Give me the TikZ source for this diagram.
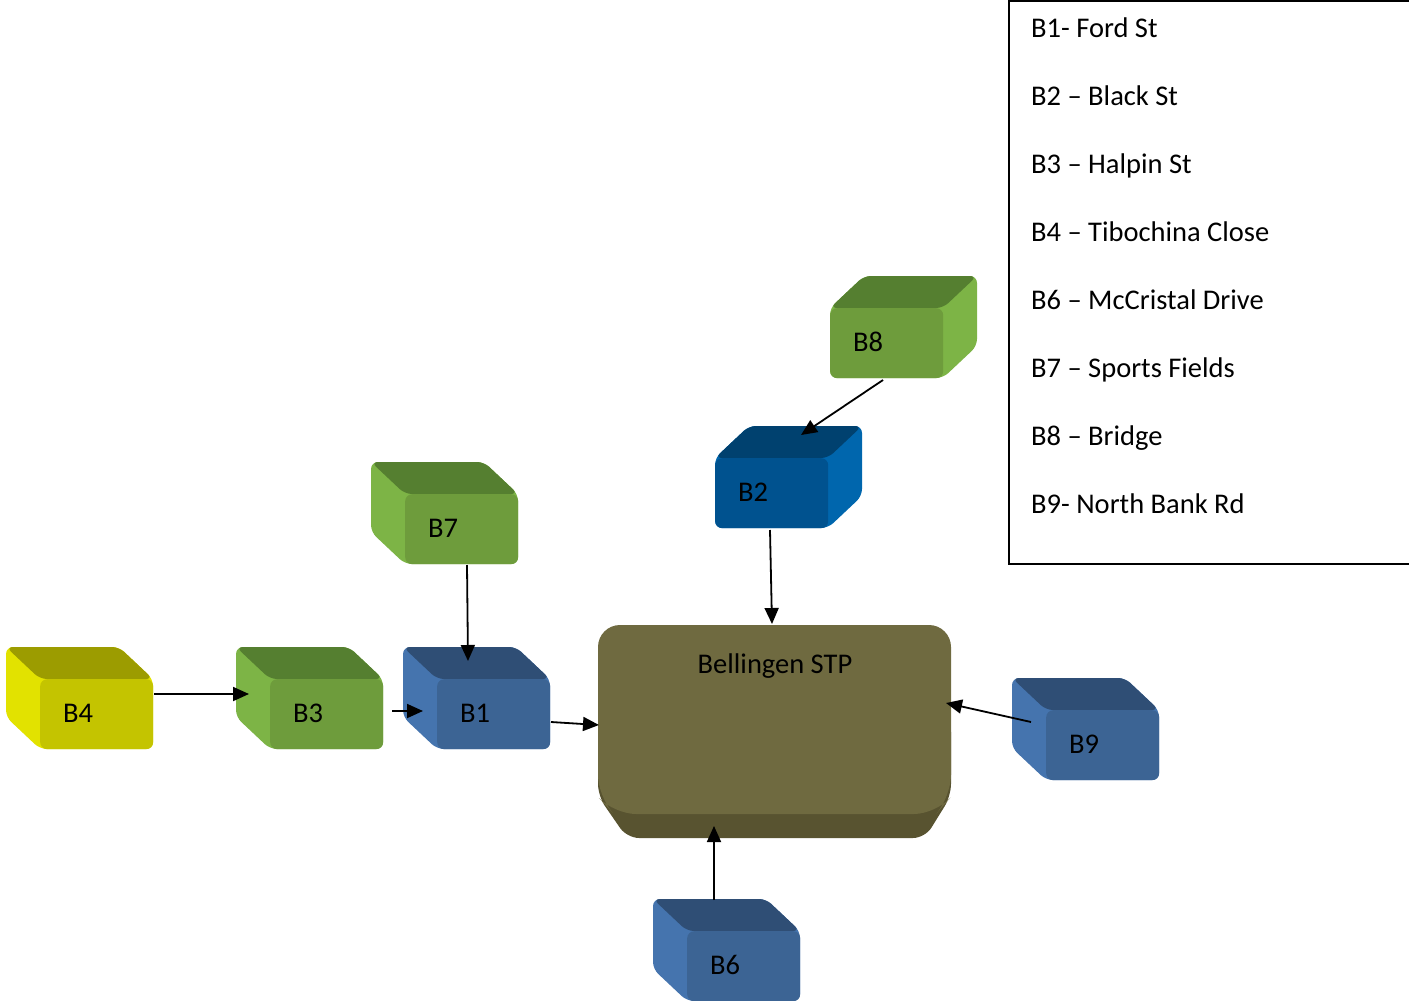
\documentclass[tikz,border=0pt]{standalone}
\usepackage{fontspec}
\setmainfont{Carlito}
\usetikzlibrary{arrows.meta}
\definecolor{gfront}{HTML}{6E9C3C}
\definecolor{gtop}{HTML}{557F30}
\definecolor{gside}{HTML}{7DB446}
\definecolor{yfront}{HTML}{C4C400}
\definecolor{ytop}{HTML}{9C9C00}
\definecolor{yside}{HTML}{E2E200}
\definecolor{bfront}{HTML}{3C6494}
\definecolor{btop}{HTML}{2F4E75}
\definecolor{bside}{HTML}{4574AE}
\definecolor{dfront}{HTML}{00528F}
\definecolor{dtop}{HTML}{00416F}
\definecolor{dside}{HTML}{0066AD}
\definecolor{sfront}{HTML}{6F6A40}
\definecolor{sbottom}{HTML}{585330}
\tikzset{
  conn/.style={line width=1.8pt, -{Triangle[length=16pt,width=14pt]}},
  lbl/.style={font=\fontsize{28.5}{32}\selectfont, inner sep=0pt},
  leg/.style={font=\fontsize{28.5}{32}\selectfont, anchor=base west, inner sep=0pt},
  frontface/.style={rounded corners=7pt, minimum width=113pt, minimum height=70pt, anchor=north west, inner sep=0pt, draw=none},
}
% #1 name, #2 x, #3 y (front top-left), #4 front, #5 top, #6 side, #7 label
\newcommand{\cubeL}[7]{%
  \fill[#6, rounded corners=7pt] (#2-34,#3-32) -- (#2+79,#3-32) -- (#2+113,#3) -- (#2+113,#3+70) -- (#2,#3+70) -- (#2-34,#3+38) -- cycle;
  \fill[#5, rounded corners=7pt] (#2-34,#3-32) -- (#2+79,#3-32) -- (#2+113,#3) -- (#2,#3) -- cycle;
  \node[frontface, fill=#4] (#1) at (#2,#3) {};
  \node[lbl] (#1-t) at (#2+38,#3+34) {#7};
}
\newcommand{\cubeR}[7]{%
  \fill[#6, rounded corners=7pt] (#2,#3) -- (#2+34,#3-32) -- (#2+147,#3-32) -- (#2+147,#3+38) -- (#2+113,#3+70) -- (#2,#3+70) -- cycle;
  \fill[#5, rounded corners=7pt] (#2,#3) -- (#2+34,#3-32) -- (#2+147,#3-32) -- (#2+113,#3) -- cycle;
  \node[frontface, fill=#4] (#1) at (#2,#3) {};
  \node[lbl] (#1-t) at (#2+38,#3+34) {#7};
}
\begin{document}
\begin{tikzpicture}[x=1pt,y=-1pt]
\useasboundingbox (0,0) rectangle (1409,1001);
% legend
\draw[line width=1.6pt] (1420,1) -- (1009,1) -- (1009,564) -- (1420,564);
\node[leg] (l1) at (1031,37) {B1- Ford St};
\node[leg] (l2) at (1031,105) {B2 – Black St};
\node[leg] (l3) at (1031,173) {B3 – Halpin St};
\node[leg] (l4) at (1031,241) {B4 – Tibochina Close};
\node[leg] (l6) at (1031,309) {B6 – McCristal Drive};
\node[leg] (l7) at (1031,377) {B7 – Sports Fields};
\node[leg] (l8) at (1031,445) {B8 – Bridge};
\node[leg] (l9) at (1031,513) {B9- North Bank Rd};
% STP
\fill[sbottom, rounded corners=12pt] (598,720) -- (951,720) -- (951,796) -- (925,838) -- (627,838) -- (598,796) -- cycle;
\fill[sfront, rounded corners=22pt] (598,625) -- (951,625) -- (951,797) -- (936,814) -- (614,814) -- (598,797) -- cycle;
\node[lbl, anchor=base] (stp) at (775,673) {Bellingen STP};
% cubes
\cubeL{b4}{40}{679}{yfront}{ytop}{yside}{B4}
\cubeL{b3}{270}{679}{gfront}{gtop}{gside}{B3}
\cubeL{b1}{437}{679}{bfront}{btop}{bside}{B1}
\cubeL{b7}{405}{494}{gfront}{gtop}{gside}{B7}
\cubeL{b9}{1046}{710}{bfront}{btop}{bside}{B9}
\cubeL{b6}{687}{931}{bfront}{btop}{bside}{B6}
\cubeR{b8}{830}{308}{gfront}{gtop}{gside}{B8}
\cubeR{b2}{715}{458}{dfront}{dtop}{dside}{B2}
% connector ends
\coordinate (b4o) at (154,694);
\coordinate (b3i) at (249,694);
\coordinate (b3o) at (392,711);
\coordinate (b1i) at (423,711);
\coordinate (b7o) at (467,565);
\coordinate (b1t) at (468,661);
\coordinate (b1o) at (551,722);
\coordinate (stpL) at (599,725);
\coordinate (b2o) at (770,530);
\coordinate (stpT) at (772,624);
\coordinate (b8o) at (883,380);
\coordinate (b2t) at (801,435);
\coordinate (b9o) at (1031,722);
\coordinate (stpR) at (946,703);
\coordinate (b6o) at (714,900);
\coordinate (stpB) at (714,826);
\draw[conn] (b4o) -- (b3i);
\draw[conn] (b3o) -- (b1i);
\draw[conn] (b7o) -- (b1t);
\draw[conn] (b1o) -- (stpL);
\draw[conn] (b2o) -- (stpT);
\draw[conn] (b8o) -- (b2t);
\draw[conn] (b9o) -- (stpR);
\draw[conn] (b6o) -- (stpB);
\end{tikzpicture}
\end{document}
